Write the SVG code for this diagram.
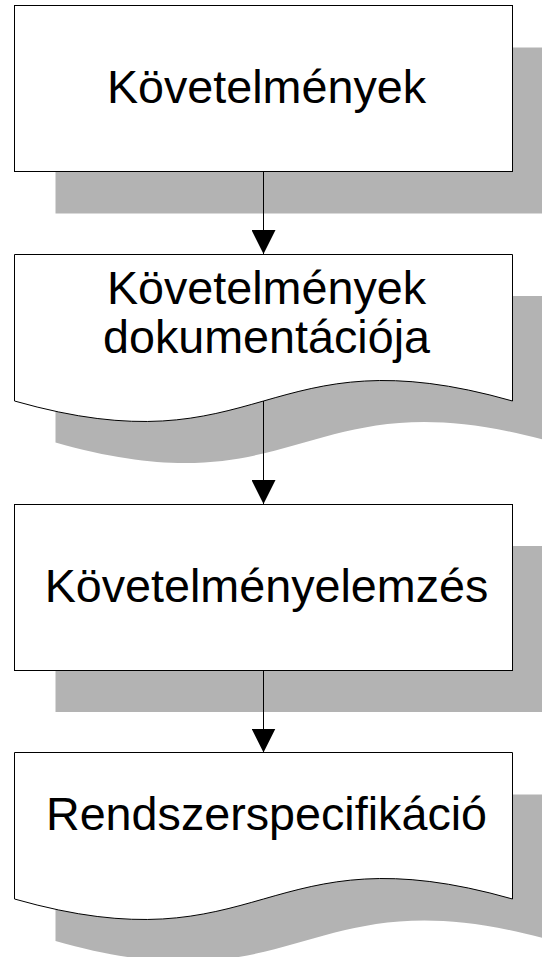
<svg xmlns="http://www.w3.org/2000/svg" width="542" height="957" viewBox="0 0 542 957">
  <defs>
    <style>
      .shadow { fill: #b3b3b3; stroke: none; }
      .shape { fill: #ffffff; stroke: #000000; stroke-width: 1; }
      .label { font-family: "Liberation Sans", Arial, sans-serif; font-size: 46.7px; fill: #000000; text-anchor: middle; }
      .flow { fill: none; stroke: #000000; stroke-width: 1; marker-end: url(#arrow); }
    </style>
    <marker id="arrow" viewBox="0 0 24 24" refX="24" refY="12" markerWidth="24" markerHeight="24" markerUnits="userSpaceOnUse" orient="auto">
      <path d="M0,0 L24,12 L0,24 Z" fill="#000000"/>
    </marker>
    <!-- document outline: flat top, wavy bottom (local coordinates, top-left at 0,0) -->
    <path id="docShape" d="M0,0 H498 V146.5 C249,75.5 249,217.5 0,146.5 Z"/>
  </defs>

  <!-- step 1: plain process box -->
  <g id="node-kovetelmenyek">
    <rect class="shadow" x="55.5" y="47.5" width="498" height="166"/>
    <rect class="shape" x="14.5" y="5.5" width="498" height="166"/>
    <text class="label" x="266.5" y="102.5">Követelmények</text>
  </g>

  <!-- step 2: document -->
  <g id="node-dokumentacio">
    <use href="#docShape" class="shadow" x="55.5" y="296"/>
    <use href="#docShape" class="shape" x="14.5" y="254.5"/>
    <text class="label" x="266.5" y="303.5">Követelmények</text>
    <text class="label" x="266.5" y="352.5">dokumentációja</text>
  </g>

  <!-- step 3: plain process box -->
  <g id="node-elemzes">
    <rect class="shadow" x="55.5" y="546" width="498" height="166"/>
    <rect class="shape" x="14.5" y="504.5" width="498" height="166"/>
    <text class="label" x="266.5" y="601.5">Követelményelemzés</text>
  </g>

  <!-- step 4: document -->
  <g id="node-rendszerspecifikacio">
    <use href="#docShape" class="shadow" x="55.5" y="794.5"/>
    <use href="#docShape" class="shape" x="14.5" y="752.5"/>
    <text class="label" x="266.5" y="830">Rendszerspecifikáció</text>
  </g>

  <!-- connectors -->
  <g id="connectors">
    <line class="flow" x1="263.5" y1="171.5" x2="263.5" y2="254"/>
    <line class="flow" x1="263.5" y1="401" x2="263.5" y2="504"/>
    <line class="flow" x1="263.5" y1="670.5" x2="263.5" y2="752.5"/>
  </g>
</svg>
